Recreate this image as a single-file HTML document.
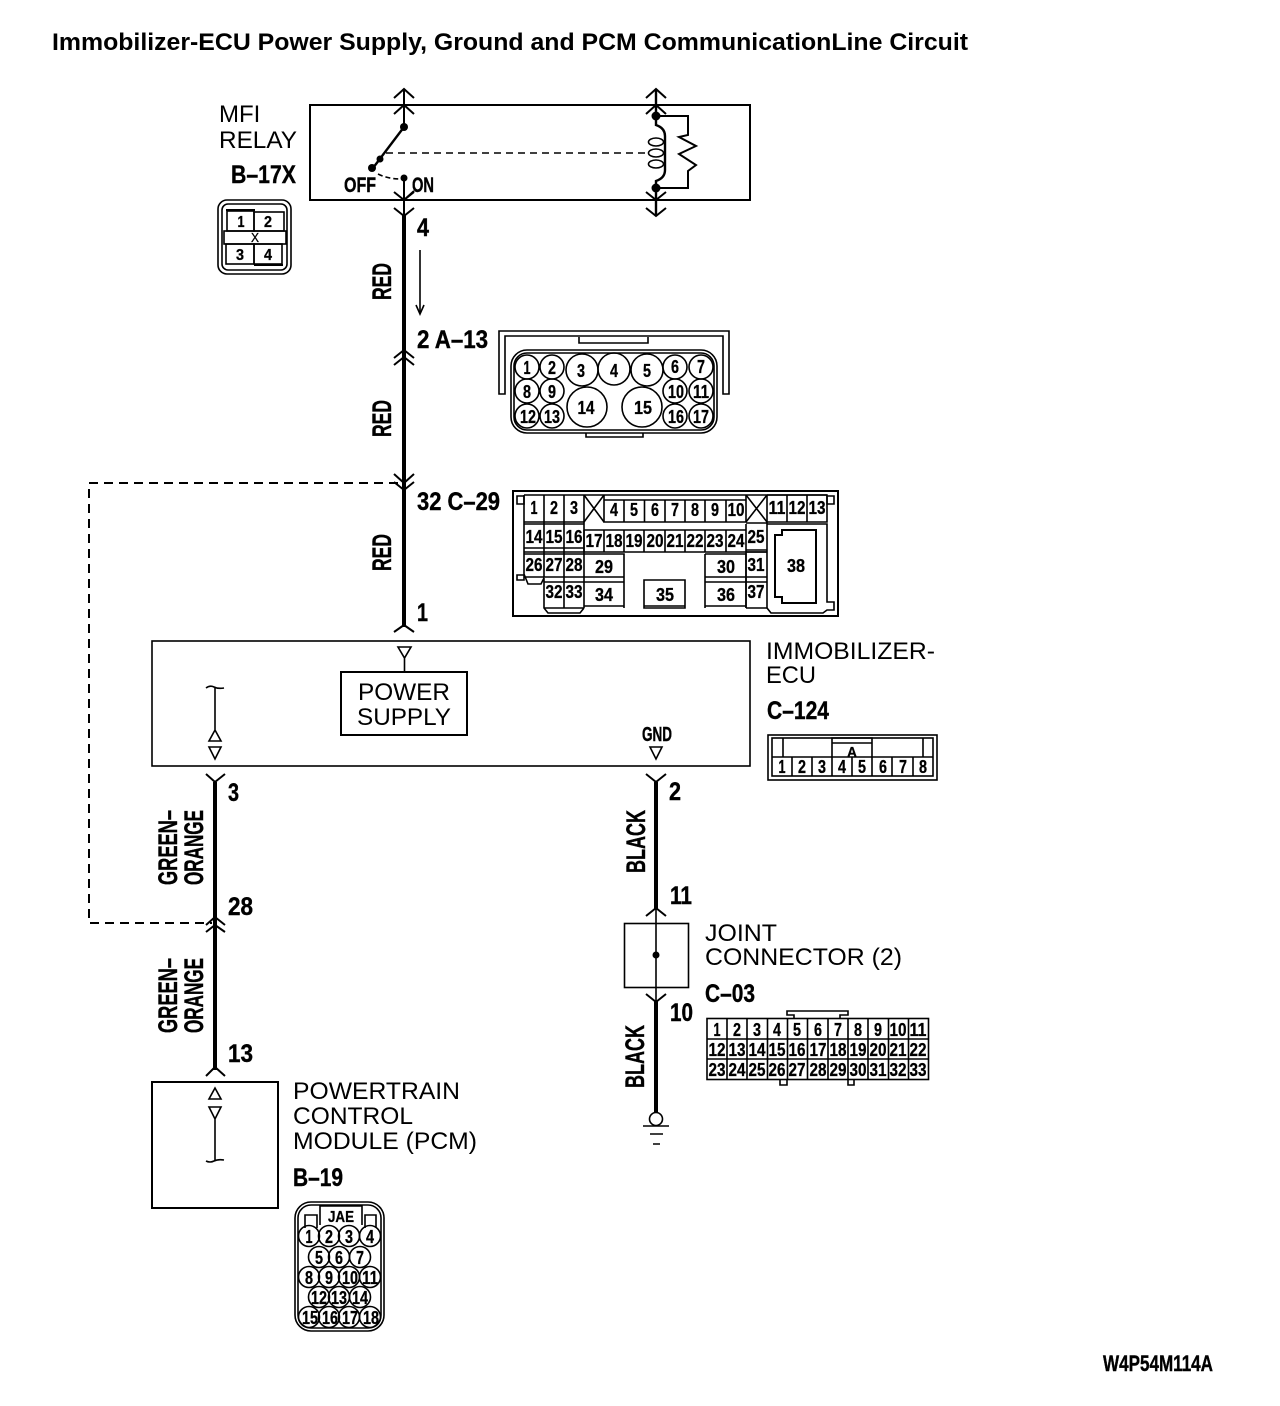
<!DOCTYPE html>
<html><head><meta charset="utf-8"><style>
html,body{margin:0;padding:0;background:#fff}
svg{display:block}
text{font-family:"Liberation Sans",sans-serif;fill:#000}
.t{font-size:24px;font-weight:400}
.b{font-weight:700;font-size:25px;stroke:#000;stroke-width:.4}
.n{font-weight:700;font-size:18px;text-anchor:middle;stroke:#000;stroke-width:.3}
.w{font-weight:700;font-size:27px;stroke:#000;stroke-width:.4}
.l{fill:none;stroke:#000;stroke-width:1.6}
.k{fill:none;stroke:#000;stroke-width:2}
.h{fill:none;stroke:#000;stroke-width:2.4}
.wr{fill:none;stroke:#000;stroke-width:4}
</style></head><body>
<svg width="1280" height="1406" viewBox="0 0 1280 1406" xmlns="http://www.w3.org/2000/svg">
<rect width="1280" height="1406" fill="#fff"/>
<text x="52" y="50" font-size="24" font-weight="700" textLength="916" lengthAdjust="spacingAndGlyphs">Immobilizer-ECU Power Supply, Ground and PCM CommunicationLine Circuit</text>

<!-- relay -->
<rect x="310" y="105" width="440" height="95" class="k"/>
<text x="219" y="122" class="t">MFI</text>
<text x="219" y="148" class="t" textLength="78" lengthAdjust="spacingAndGlyphs">RELAY</text>
<text x="231" y="183" class="b" textLength="65" lengthAdjust="spacingAndGlyphs">B–17X</text>
<path class="k" d="M404 89V127M394 98L404 89L414 98M394 114L404 105L414 114"/>
<path class="h" d="M373 168L404 127"/>
<circle cx="404" cy="127" r="4"/><circle cx="372" cy="168" r="4"/><circle cx="380" cy="159" r="3.500"/>
<path class="l" stroke-dasharray="7 5" d="M386 153H645"/>
<path class="l" stroke-dasharray="5 3" d="M378 174Q388 179 401 179"/>
<circle cx="404" cy="178" r="3.500"/>
<path class="k" d="M404 178V218M394 192L404 200L414 192M394 208L404 216L414 208M404 200L414 191"/>
<text x="344" y="192" font-size="21" font-weight="700" stroke="#000" stroke-width=".4" textLength="32" lengthAdjust="spacingAndGlyphs">OFF</text>
<text x="412" y="192" font-size="21" font-weight="700" stroke="#000" stroke-width=".4" textLength="22" lengthAdjust="spacingAndGlyphs">ON</text>
<!-- coil side -->
<path class="h" d="M656 89V125Q665 128 665 136V170Q665 178 656 181V216"/>
<path class="k" d="M646 98L656 89L666 98M646 114L656 105L666 114M646 192L656 200L666 192M646 208L656 216L666 208"/>
<circle cx="656" cy="116" r="4.500"/><circle cx="656" cy="188" r="4.500"/>
<ellipse cx="656" cy="142" rx="7.500" ry="4" class="l"/><ellipse cx="656" cy="153" rx="7.500" ry="4" class="l"/><ellipse cx="656" cy="164" rx="7.500" ry="4" class="l"/>
<path class="k" d="M656 116H688V135L679 137L696 146L679 154L696 165L688 171V188H656"/>

<!-- B-17X connector -->
<rect x="218" y="200" width="73" height="74" rx="9" class="l"/><rect x="222" y="204" width="65" height="66" rx="6" class="l"/>
<rect x="227" y="211" width="27" height="20" class="l"/><path class="k" d="M226 210H255"/>
<rect x="254" y="212" width="30" height="19" class="l"/>
<rect x="224" y="231" width="62" height="13" class="l"/>
<rect x="226" y="244" width="28" height="20" class="l"/><rect x="254" y="244" width="28" height="20" class="l"/><path class="k" d="M254 265H283"/>
<text x="241" y="227" class="n" style="font-size:16px" textLength="7" lengthAdjust="spacingAndGlyphs">1</text>
<text x="268" y="227" class="n" style="font-size:16px" textLength="8" lengthAdjust="spacingAndGlyphs">2</text>
<text x="240" y="260" class="n" style="font-size:16px" textLength="8" lengthAdjust="spacingAndGlyphs">3</text>
<text x="268" y="260" class="n" style="font-size:16px" textLength="8" lengthAdjust="spacingAndGlyphs">4</text>
<text x="255" y="242" class="n" style="font-size:13px;font-weight:400" textLength="8" lengthAdjust="spacingAndGlyphs">X</text>

<!-- main wire -->
<path class="wr" d="M404 214V627"/>
<path class="k" d="M394 358L404 350L414 358M394 365L404 357L414 365M394 474L404 483L414 474M394 482L404 490L414 482M394 632L404 625L414 632"/>
<path class="l" d="M420 250V313"/><path class="l" d="M416 305L420 314L424 305"/>
<text x="417" y="236" class="b" textLength="12" lengthAdjust="spacingAndGlyphs">4</text>
<text x="417" y="348" class="b" textLength="71" lengthAdjust="spacingAndGlyphs">2 A–13</text>
<text x="417" y="510" class="b" textLength="83" lengthAdjust="spacingAndGlyphs">32 C–29</text>
<text x="417" y="621" class="b" textLength="11" lengthAdjust="spacingAndGlyphs">1</text>
<text class="w" transform="translate(391,300) rotate(-90)" textLength="37" lengthAdjust="spacingAndGlyphs">RED</text>
<text class="w" transform="translate(391,437) rotate(-90)" textLength="37" lengthAdjust="spacingAndGlyphs">RED</text>
<text class="w" transform="translate(391,571) rotate(-90)" textLength="37" lengthAdjust="spacingAndGlyphs">RED</text>
<path class="k" stroke-dasharray="9 6" d="M398 483H89V923H212"/>

<!-- A-13 connector -->
<path class="l" d="M499 394V331H729V394H723V336H505V394Z"/>
<path class="l" d="M579 337V343H648V337"/>
<rect x="511" y="350" width="206" height="83" rx="16" class="l"/><rect x="514" y="353" width="200" height="77" rx="13" class="l"/>
<path class="l" d="M586 433V437H643V433"/>
<g class="l">
<circle cx="527" cy="367" r="12"/><circle cx="552" cy="367" r="12"/><circle cx="582" cy="370" r="16"/><circle cx="614" cy="369" r="16"/><circle cx="647" cy="370" r="16"/><circle cx="675" cy="367" r="12"/><circle cx="701" cy="367" r="12"/>
<circle cx="527" cy="391" r="12"/><circle cx="552" cy="391" r="12"/><circle cx="675" cy="391" r="12"/><circle cx="701" cy="391" r="12"/>
<circle cx="527" cy="416" r="12"/><circle cx="552" cy="416" r="12"/><circle cx="675" cy="416" r="12"/><circle cx="701" cy="416" r="12"/>
<circle cx="587" cy="407" r="20"/><circle cx="642" cy="407" r="20"/>
</g>
<g class="n">
<text x="527" y="374" textLength="7" lengthAdjust="spacingAndGlyphs">1</text><text x="552" y="374" textLength="8" lengthAdjust="spacingAndGlyphs">2</text><text x="581" y="377" textLength="8" lengthAdjust="spacingAndGlyphs">3</text><text x="614" y="377" textLength="8" lengthAdjust="spacingAndGlyphs">4</text><text x="647" y="377" textLength="8" lengthAdjust="spacingAndGlyphs">5</text><text x="675" y="373" textLength="8" lengthAdjust="spacingAndGlyphs">6</text><text x="701" y="373" textLength="8" lengthAdjust="spacingAndGlyphs">7</text>
<text x="527" y="398" textLength="8" lengthAdjust="spacingAndGlyphs">8</text><text x="552" y="398" textLength="8" lengthAdjust="spacingAndGlyphs">9</text><text x="676" y="398" textLength="16" lengthAdjust="spacingAndGlyphs">10</text><text x="701" y="398" textLength="16" lengthAdjust="spacingAndGlyphs">11</text>
<text x="528" y="423" textLength="16" lengthAdjust="spacingAndGlyphs">12</text><text x="552" y="423" textLength="16" lengthAdjust="spacingAndGlyphs">13</text><text x="586" y="414" textLength="17" lengthAdjust="spacingAndGlyphs">14</text><text x="643" y="414" textLength="18" lengthAdjust="spacingAndGlyphs">15</text><text x="676" y="423" textLength="16" lengthAdjust="spacingAndGlyphs">16</text><text x="701" y="423" textLength="16" lengthAdjust="spacingAndGlyphs">17</text>
</g>

<!-- C-29 connector -->
<rect x="513" y="491" width="325" height="125" class="k"/>
<path class="l" d="M524 495H827M517 496H524V504H517ZM827 496H834V504H827Z"/>
<path class="l" d="M524 495V574L528 584H541L544 578V608L548 613H580L584 608M524 522H584M524 524H584M524 548H584M524 552H584M524 577H584M524 554H584M544 495V577M564 495V608M584 495V608M544 582H584M544 608H584"/>
<path class="l" d="M517 575H524V580H517Z"/>
<path class="l" d="M584 495L604 522M604 495L584 522M746 522L767 495M746 495L767 522"/>
<path class="l" d="M604 495V522H746M604 500H746M624 500V522M644.500 500V522M665 500V522M685 500V522M705 500V522M726 500V522M746 495V522"/>
<path class="l" d="M584 530H746M584 552H767M584 530V552M604 530V552M624 530V552M644 530V552M665 530V552M685 530V552M705 530V552M726 530V552M746 524V608M767 495V608"/>
<path class="l" d="M584 554H624V608M584 577H624M584 582H624M584 606H624"/>
<path class="l" d="M705 554H746V608M705 577H746M705 582H746M705 606H746M705 554V608"/>
<path class="l" d="M644 580H685V608H644ZM644 606H685"/>
<path class="l" d="M746 523H767M746 550H767M746 552H767M746 577H767M746 582H767M746 608H767"/>
<path class="l" d="M767 495H827V522H767M787 495V522M807 495V522M827 495V522"/>
<path class="l" d="M767 524H827V602H834V610H827L823 613H771L767 608"/>
<path class="k" d="M775 535H782V530H816V603H782V597H775Z"/>
<g class="n">
<text x="534" y="514" textLength="7" lengthAdjust="spacingAndGlyphs">1</text><text x="554" y="514" textLength="8" lengthAdjust="spacingAndGlyphs">2</text><text x="574" y="514" textLength="8" lengthAdjust="spacingAndGlyphs">3</text><text x="614" y="516" textLength="8" lengthAdjust="spacingAndGlyphs">4</text><text x="634" y="516" textLength="8" lengthAdjust="spacingAndGlyphs">5</text><text x="655" y="516" textLength="8" lengthAdjust="spacingAndGlyphs">6</text><text x="675" y="516" textLength="8" lengthAdjust="spacingAndGlyphs">7</text><text x="695" y="516" textLength="8" lengthAdjust="spacingAndGlyphs">8</text><text x="715" y="516" textLength="8" lengthAdjust="spacingAndGlyphs">9</text><text x="736" y="516" textLength="17" lengthAdjust="spacingAndGlyphs">10</text><text x="777" y="514" textLength="17" lengthAdjust="spacingAndGlyphs">11</text><text x="797" y="514" textLength="17" lengthAdjust="spacingAndGlyphs">12</text><text x="817" y="514" textLength="17" lengthAdjust="spacingAndGlyphs">13</text>
<text x="534" y="543" textLength="17" lengthAdjust="spacingAndGlyphs">14</text><text x="554" y="543" textLength="17" lengthAdjust="spacingAndGlyphs">15</text><text x="574" y="543" textLength="17" lengthAdjust="spacingAndGlyphs">16</text><text x="594" y="547" textLength="17" lengthAdjust="spacingAndGlyphs">17</text><text x="614" y="547" textLength="17" lengthAdjust="spacingAndGlyphs">18</text><text x="634" y="547" textLength="17" lengthAdjust="spacingAndGlyphs">19</text><text x="655" y="547" textLength="17" lengthAdjust="spacingAndGlyphs">20</text><text x="675" y="547" textLength="17" lengthAdjust="spacingAndGlyphs">21</text><text x="695" y="547" textLength="17" lengthAdjust="spacingAndGlyphs">22</text><text x="715" y="547" textLength="17" lengthAdjust="spacingAndGlyphs">23</text><text x="736" y="547" textLength="17" lengthAdjust="spacingAndGlyphs">24</text><text x="756" y="543" textLength="17" lengthAdjust="spacingAndGlyphs">25</text>
<text x="534" y="571" textLength="17" lengthAdjust="spacingAndGlyphs">26</text><text x="554" y="571" textLength="17" lengthAdjust="spacingAndGlyphs">27</text><text x="574" y="571" textLength="17" lengthAdjust="spacingAndGlyphs">28</text><text x="604" y="573" textLength="18" lengthAdjust="spacingAndGlyphs">29</text><text x="726" y="573" textLength="18" lengthAdjust="spacingAndGlyphs">30</text><text x="756" y="571" textLength="17" lengthAdjust="spacingAndGlyphs">31</text><text x="796" y="572" textLength="18" lengthAdjust="spacingAndGlyphs">38</text>
<text x="554" y="598" textLength="17" lengthAdjust="spacingAndGlyphs">32</text><text x="574" y="598" textLength="17" lengthAdjust="spacingAndGlyphs">33</text><text x="604" y="601" textLength="18" lengthAdjust="spacingAndGlyphs">34</text><text x="665" y="601" textLength="18" lengthAdjust="spacingAndGlyphs">35</text><text x="726" y="601" textLength="18" lengthAdjust="spacingAndGlyphs">36</text><text x="756" y="598" textLength="17" lengthAdjust="spacingAndGlyphs">37</text>
</g>

<!-- ECU -->
<rect x="152" y="641" width="598" height="125" class="l"/>
<rect x="341" y="672" width="126" height="63" class="k"/>
<text x="404" y="700" class="t" text-anchor="middle" textLength="92" lengthAdjust="spacingAndGlyphs">POWER</text>
<text x="404" y="725" class="t" text-anchor="middle" textLength="94" lengthAdjust="spacingAndGlyphs">SUPPLY</text>
<path class="l" d="M398 647H411L404.500 658ZM404.500 658V672"/>
<path class="l" d="M206 688Q210 685 214 687T224 688M215 687V730M215 730L221 741H209ZM209 747H221L215 759Z"/>
<text x="642" y="741" font-size="20" font-weight="700" stroke="#000" stroke-width=".4" textLength="30" lengthAdjust="spacingAndGlyphs">GND</text>
<path class="l" d="M650 747H662L656 759Z"/>
<text x="766" y="659" class="t" textLength="169" lengthAdjust="spacingAndGlyphs">IMMOBILIZER-</text>
<text x="766" y="683" class="t" textLength="50" lengthAdjust="spacingAndGlyphs">ECU</text>
<text x="767" y="719" class="b" textLength="62" lengthAdjust="spacingAndGlyphs">C–124</text>
<!-- C-124 connector -->
<rect x="768" y="735" width="169" height="45" class="l"/><rect x="772" y="738" width="161" height="38" class="l"/>
<path class="l" d="M772 757H933M792 757V776M812 757V776M832 757V776M852 757V776M872 757V776M892 757V776M913 757V776"/>
<path class="l" d="M832 757V738H872V757M832 743H872M783 738V757M923 738V757"/>
<text x="852" y="757" class="n" style="font-size:15px" textLength="10" lengthAdjust="spacingAndGlyphs">A</text>
<g class="n">
<text x="782" y="773" textLength="7" lengthAdjust="spacingAndGlyphs">1</text><text x="802" y="773" textLength="8" lengthAdjust="spacingAndGlyphs">2</text><text x="822" y="773" textLength="8" lengthAdjust="spacingAndGlyphs">3</text><text x="842" y="773" textLength="8" lengthAdjust="spacingAndGlyphs">4</text><text x="862" y="773" textLength="8" lengthAdjust="spacingAndGlyphs">5</text><text x="883" y="773" textLength="8" lengthAdjust="spacingAndGlyphs">6</text><text x="903" y="773" textLength="8" lengthAdjust="spacingAndGlyphs">7</text><text x="923" y="773" textLength="8" lengthAdjust="spacingAndGlyphs">8</text>
</g>

<!-- left wire -->
<path class="wr" d="M215 782V1070"/>
<path class="k" d="M206 774L215 782L225 774M206 925L215 917L225 925M206 932L215 925L225 932M206 1076L215 1067L225 1076"/>
<text x="228" y="801" class="b" textLength="11" lengthAdjust="spacingAndGlyphs">3</text>
<text x="228" y="915" class="b" textLength="25" lengthAdjust="spacingAndGlyphs">28</text>
<text x="228" y="1062" class="b" textLength="25" lengthAdjust="spacingAndGlyphs">13</text>
<g class="w">
<text transform="translate(177,885) rotate(-90)" textLength="75" lengthAdjust="spacingAndGlyphs">GREEN–</text>
<text transform="translate(203,885) rotate(-90)" textLength="75" lengthAdjust="spacingAndGlyphs">ORANGE</text>
<text transform="translate(177,1033) rotate(-90)" textLength="75" lengthAdjust="spacingAndGlyphs">GREEN–</text>
<text transform="translate(203,1033) rotate(-90)" textLength="75" lengthAdjust="spacingAndGlyphs">ORANGE</text>
</g>

<!-- PCM -->
<rect x="152" y="1082" width="126" height="126" class="k"/>
<path class="l" d="M209 1099H221L215 1088ZM209 1107H221L215 1119ZM215 1119V1160M206 1161Q210 1163 214 1161T224 1160"/>
<text x="293" y="1099" class="t" textLength="167" lengthAdjust="spacingAndGlyphs">POWERTRAIN</text>
<text x="293" y="1124" class="t" textLength="120" lengthAdjust="spacingAndGlyphs">CONTROL</text>
<text x="293" y="1149" class="t" textLength="184" lengthAdjust="spacingAndGlyphs">MODULE (PCM)</text>
<text x="293" y="1186" class="b" textLength="50" lengthAdjust="spacingAndGlyphs">B–19</text>
<!-- B-19 connector -->
<rect x="295" y="1202" width="89" height="129" rx="16" class="l"/><rect x="298" y="1205" width="83" height="123" rx="13" class="l"/>
<path class="l" d="M320 1225V1206H362V1225M305 1228V1215H317V1228M365 1228V1215H376V1228"/>
<text x="341" y="1222" class="n" style="font-size:16px" textLength="26" lengthAdjust="spacingAndGlyphs">JAE</text>
<g class="l">
<circle cx="309" cy="1236" r="10.500"/><circle cx="329" cy="1236" r="10.500"/><circle cx="349" cy="1236" r="10.500"/><circle cx="370" cy="1236" r="10.500"/>
<circle cx="319" cy="1257" r="10.500"/><circle cx="339" cy="1257" r="10.500"/><circle cx="360" cy="1257" r="10.500"/>
<circle cx="309" cy="1277" r="10.500"/><circle cx="329" cy="1277" r="10.500"/><circle cx="349" cy="1277" r="10.500"/><circle cx="370" cy="1277" r="10.500"/>
<circle cx="319" cy="1297" r="10.500"/><circle cx="339" cy="1297" r="10.500"/><circle cx="360" cy="1297" r="10.500"/>
<circle cx="309" cy="1317" r="10.500"/><circle cx="329" cy="1317" r="10.500"/><circle cx="349" cy="1317" r="10.500"/><circle cx="370" cy="1317" r="10.500"/>
</g>
<g class="n">
<text x="309" y="1243" textLength="7" lengthAdjust="spacingAndGlyphs">1</text><text x="329" y="1243" textLength="8" lengthAdjust="spacingAndGlyphs">2</text><text x="349" y="1243" textLength="8" lengthAdjust="spacingAndGlyphs">3</text><text x="370" y="1243" textLength="8" lengthAdjust="spacingAndGlyphs">4</text>
<text x="319" y="1264" textLength="8" lengthAdjust="spacingAndGlyphs">5</text><text x="339" y="1264" textLength="8" lengthAdjust="spacingAndGlyphs">6</text><text x="360" y="1264" textLength="8" lengthAdjust="spacingAndGlyphs">7</text>
<text x="309" y="1284" textLength="8" lengthAdjust="spacingAndGlyphs">8</text><text x="329" y="1284" textLength="8" lengthAdjust="spacingAndGlyphs">9</text><text x="350" y="1284" textLength="16" lengthAdjust="spacingAndGlyphs">10</text><text x="370" y="1284" textLength="16" lengthAdjust="spacingAndGlyphs">11</text>
<text x="319" y="1304" textLength="16" lengthAdjust="spacingAndGlyphs">12</text><text x="339" y="1304" textLength="16" lengthAdjust="spacingAndGlyphs">13</text><text x="360" y="1304" textLength="16" lengthAdjust="spacingAndGlyphs">14</text>
<text x="310" y="1324" textLength="16" lengthAdjust="spacingAndGlyphs">15</text><text x="330" y="1324" textLength="16" lengthAdjust="spacingAndGlyphs">16</text><text x="350" y="1324" textLength="16" lengthAdjust="spacingAndGlyphs">17</text><text x="371" y="1324" textLength="16" lengthAdjust="spacingAndGlyphs">18</text>
</g>

<!-- right wire -->
<path class="wr" d="M656 782V910M656 1000V1112"/>
<path class="k" d="M646 774L656 782L666 774M646 916L656 908L666 916M646 994L656 1002L666 994"/>
<path class="l" d="M656 908V1002"/>
<rect x="624.500" y="923.500" width="64" height="64" class="l"/>
<circle cx="656" cy="955" r="3.500"/>
<circle cx="656" cy="1119" r="6.500" fill="#fff" stroke="#000" stroke-width="1.600"/>
<path class="l" d="M643 1126H669M650 1134H663M653 1144H660"/>
<text x="669" y="800" class="b" textLength="12" lengthAdjust="spacingAndGlyphs">2</text>
<text x="670" y="904" class="b" textLength="22" lengthAdjust="spacingAndGlyphs">11</text>
<text x="670" y="1021" class="b" textLength="23" lengthAdjust="spacingAndGlyphs">10</text>
<g class="w">
<text transform="translate(645,873) rotate(-90)" textLength="63" lengthAdjust="spacingAndGlyphs">BLACK</text>
<text transform="translate(644,1088) rotate(-90)" textLength="63" lengthAdjust="spacingAndGlyphs">BLACK</text>
</g>
<text x="705" y="941" class="t" textLength="72" lengthAdjust="spacingAndGlyphs">JOINT</text>
<text x="705" y="965" class="t" textLength="197" lengthAdjust="spacingAndGlyphs">CONNECTOR (2)</text>
<text x="705" y="1002" class="b" textLength="50" lengthAdjust="spacingAndGlyphs">C–03</text>
<!-- C-03 connector -->
<rect x="707" y="1018.500" width="221.500" height="61" class="l"/>
<path class="l" d="M707 1039H928M707 1059H928M727 1018V1079M747 1018V1079M767.500 1018V1079M787.500 1018V1079M807.500 1018V1079M828 1018V1079M848 1018V1079M868 1018V1079M888.500 1018V1079M908.500 1018V1079"/>
<path class="l" d="M794 1018V1015H787V1011H848V1015H840V1018M780 1079V1085H787V1079M848 1079V1085H854V1079"/>
<g class="n">
<text x="717" y="1036" textLength="7" lengthAdjust="spacingAndGlyphs">1</text><text x="737" y="1036" textLength="8" lengthAdjust="spacingAndGlyphs">2</text><text x="757" y="1036" textLength="8" lengthAdjust="spacingAndGlyphs">3</text><text x="777" y="1036" textLength="8" lengthAdjust="spacingAndGlyphs">4</text><text x="797" y="1036" textLength="8" lengthAdjust="spacingAndGlyphs">5</text><text x="818" y="1036" textLength="8" lengthAdjust="spacingAndGlyphs">6</text><text x="838" y="1036" textLength="8" lengthAdjust="spacingAndGlyphs">7</text><text x="858" y="1036" textLength="8" lengthAdjust="spacingAndGlyphs">8</text><text x="878" y="1036" textLength="8" lengthAdjust="spacingAndGlyphs">9</text><text x="898" y="1036" textLength="17" lengthAdjust="spacingAndGlyphs">10</text><text x="918" y="1036" textLength="17" lengthAdjust="spacingAndGlyphs">11</text>
<text x="717" y="1056" textLength="17" lengthAdjust="spacingAndGlyphs">12</text><text x="737" y="1056" textLength="17" lengthAdjust="spacingAndGlyphs">13</text><text x="757" y="1056" textLength="17" lengthAdjust="spacingAndGlyphs">14</text><text x="777" y="1056" textLength="17" lengthAdjust="spacingAndGlyphs">15</text><text x="797" y="1056" textLength="17" lengthAdjust="spacingAndGlyphs">16</text><text x="818" y="1056" textLength="17" lengthAdjust="spacingAndGlyphs">17</text><text x="838" y="1056" textLength="17" lengthAdjust="spacingAndGlyphs">18</text><text x="858" y="1056" textLength="17" lengthAdjust="spacingAndGlyphs">19</text><text x="878" y="1056" textLength="17" lengthAdjust="spacingAndGlyphs">20</text><text x="898" y="1056" textLength="17" lengthAdjust="spacingAndGlyphs">21</text><text x="918" y="1056" textLength="17" lengthAdjust="spacingAndGlyphs">22</text>
<text x="717" y="1076" textLength="17" lengthAdjust="spacingAndGlyphs">23</text><text x="737" y="1076" textLength="17" lengthAdjust="spacingAndGlyphs">24</text><text x="757" y="1076" textLength="17" lengthAdjust="spacingAndGlyphs">25</text><text x="777" y="1076" textLength="17" lengthAdjust="spacingAndGlyphs">26</text><text x="797" y="1076" textLength="17" lengthAdjust="spacingAndGlyphs">27</text><text x="818" y="1076" textLength="17" lengthAdjust="spacingAndGlyphs">28</text><text x="838" y="1076" textLength="17" lengthAdjust="spacingAndGlyphs">29</text><text x="858" y="1076" textLength="17" lengthAdjust="spacingAndGlyphs">30</text><text x="878" y="1076" textLength="17" lengthAdjust="spacingAndGlyphs">31</text><text x="898" y="1076" textLength="17" lengthAdjust="spacingAndGlyphs">32</text><text x="918" y="1076" textLength="17" lengthAdjust="spacingAndGlyphs">33</text>
</g>
<text x="1103" y="1371" font-size="22" font-weight="700" stroke="#000" stroke-width=".4" textLength="110" lengthAdjust="spacingAndGlyphs">W4P54M114A</text>
</svg>
</body></html>
